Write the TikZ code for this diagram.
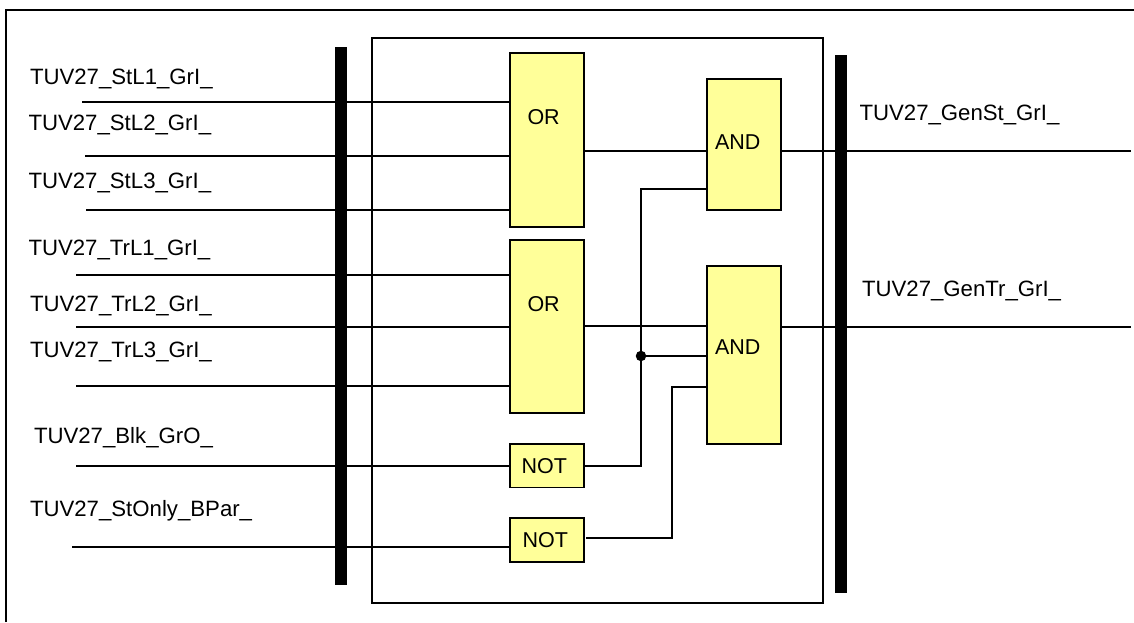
\documentclass[tikz,border=0pt]{standalone}
\usepackage{fontspec}
\usepackage{xcolor}
\setmainfont{Liberation Sans}
\usetikzlibrary{positioning,calc}
\definecolor{Ink}{HTML}{000000}
\definecolor{GateFill}{HTML}{FFFF99}
\tikzset{
  gate/.style={draw=Ink,fill=GateFill,line width=1.6pt,minimum width=74pt,outer sep=0pt,inner sep=0pt},
  gatetext/.style={anchor=base west,inner sep=0pt,outer sep=0pt,font=\fontsize{21.5}{24}\selectfont,color=Ink},
  sigtext/.style={anchor=base west,inner sep=0pt,outer sep=0pt,font=\fontsize{22.2}{24}\selectfont,color=Ink},
  busbar/.style={fill=Ink,draw=none,minimum width=12pt,outer sep=0pt,inner sep=0pt},
  wire/.style={line width=1.7pt,color=Ink},
  frameline/.style={line width=1.3pt,color=Ink},
  modulebox/.style={draw=Ink,line width=2.2pt,minimum width=451.5pt,minimum height=565pt,outer sep=0pt,inner sep=0pt},
  joint/.style={circle,fill=Ink,minimum size=10.5pt,inner sep=0pt,outer sep=0pt}
}
\begin{document}
\begin{tikzpicture}[x=1pt,y=-1pt]
  \useasboundingbox (0,0) rectangle (1134,622);
  \coordinate (framebl) at (6,622);
  \coordinate (frametl) at (6,10);
  \coordinate (frametr) at (1134,10);
  \draw[frameline] (framebl) -- (frametl) -- (frametr);
  \node[modulebox] (module) at (597.5,320.5) {};
  \node[busbar,minimum height=538pt] (busin) at (340.5,316) {};
  \node[busbar,minimum height=538pt] (busout) at (841,324) {};
  \node[gate,minimum height=174pt] (orst) at (547,140) {};
  \node[gate,minimum height=173pt] (ortr) at (547,326.5) {};
  \node[gate,minimum height=131pt] (andst) at (744,144.5) {};
  \node[gate,minimum height=178pt] (andtr) at (744,355) {};
  \node[gate,minimum height=43.5pt] (notblk) at (547,465.75) {};
  \node[gate,minimum height=44pt] (notst) at (547,540) {};
  \node[gatetext] (orsttxt) at (527.5,124) {OR};
  \node[gatetext] (ortrtxt) at (527.5,311) {OR};
  \node[gatetext] (andsttxt) at (715,149) {AND};
  \node[gatetext] (andtrtxt) at (715,354) {AND};
  \node[gatetext] (notblktxt) at (521.5,473) {NOT};
  \node[gatetext] (notsttxt) at (522.5,547) {NOT};
  \node[sigtext] (lstla) at (30,84) {TUV27\_StL1\_GrI\_};
  \node[sigtext] (lstlb) at (28.5,130) {TUV27\_StL2\_GrI\_};
  \node[sigtext] (lstlc) at (28.5,188) {TUV27\_StL3\_GrI\_};
  \node[sigtext] (ltrla) at (28.5,255) {TUV27\_TrL1\_GrI\_};
  \node[sigtext] (ltrlb) at (30,311.5) {TUV27\_TrL2\_GrI\_};
  \node[sigtext] (ltrlc) at (30,357) {TUV27\_TrL3\_GrI\_};
  \node[sigtext] (lblk) at (34,443) {TUV27\_Blk\_GrO\_};
  \node[sigtext] (lstonly) at (30,516.5) {TUV27\_StOnly\_BPar\_};
  \node[sigtext] (lgenst) at (859.5,120.5) {TUV27\_GenSt\_GrI\_};
  \node[sigtext] (lgentr) at (862,296) {TUV27\_GenTr\_GrI\_};
  \coordinate (instla) at (82,102);
  \coordinate (instlb) at (85,156);
  \coordinate (instlc) at (86,210);
  \coordinate (intrla) at (76,275);
  \coordinate (intrlb) at (76,327);
  \coordinate (intrlc) at (76,386);
  \coordinate (inblk) at (76,466);
  \coordinate (inst) at (72,547);
  \coordinate (outst) at (1131,151);
  \coordinate (outtr) at (1131,327);
  \coordinate (bendblk) at (641,466);
  \coordinate (bendtop) at (641,189);
  \coordinate (bendnota) at (672,538);
  \coordinate (bendnotb) at (672,387);
  \coordinate (notstout) at (586,538);
  \node[joint] (dot) at (641,356) {};
  \draw[wire] (instla) -- (instla -| orst.west);
  \draw[wire] (instlb) -- (instlb -| orst.west);
  \draw[wire] (instlc) -- (instlc -| orst.west);
  \draw[wire] (intrla) -- (intrla -| ortr.west);
  \draw[wire] (intrlb) -- (intrlb -| ortr.west);
  \draw[wire] (intrlc) -- (intrlc -| ortr.west);
  \draw[wire] (inblk) -- (inblk -| notblk.west);
  \draw[wire] (inst) -- (inst -| notst.west);
  \draw[wire] (orst.east |- outst) -- (andst.west |- outst);
  \draw[wire] (ortr.east |- 0,326) -- (andtr.west |- 0,326);
  \draw[wire] (andst.east |- outst) -- (outst);
  \draw[wire] (andtr.east |- outtr) -- (outtr);
  \draw[wire] (notblk.east |- bendblk) -- (bendblk) -- (bendtop) -- (andst.west |- bendtop);
  \draw[wire] (dot) -- (andtr.west |- dot);
  \draw[wire] (notstout) -- (bendnota) -- (bendnotb) -- (andtr.west |- bendnotb);
\end{tikzpicture}
\end{document}
